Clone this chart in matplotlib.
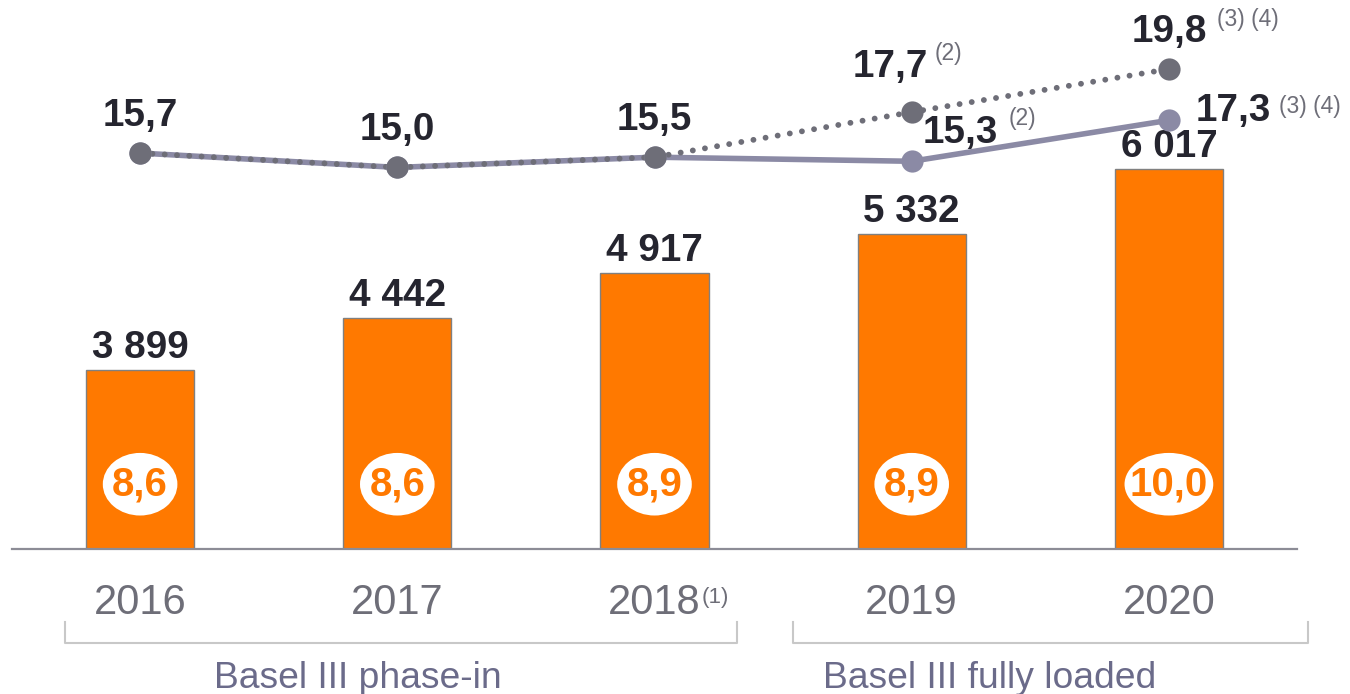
import matplotlib.pyplot as plt
from matplotlib.lines import Line2D
from matplotlib.patches import Ellipse
import numpy as np

plt.rcParams['font.family'] = ['Liberation Sans', 'DejaVu Sans']

# data
years = ['2016', '2017', '2018', '2019', '2020']
capital = [3899, 4442, 4917, 5332, 6017]
capital_labels = ['3 899', '4 442', '4 917', '5 332', '6 017']
cet1_labels = ['8,6', '8,6', '8,9', '8,9', '10,0']
ratio_solid = [15.7, 15.0, 15.5, 15.3, 17.3]
ratio_dotted = [15.7, 15.0, 15.5, 17.7, 19.8]
ratio_labels = ['15,7', '15,0', '15,5']
periods = ['Basel III phase-in', 'Basel III fully loaded']

ORANGE = '#ff7900'
DARK = '#25252f'
GREY = '#6e6e78'
LILAC = '#8b8aa5'
W, H = 1350, 694


def fx(px):
    return px / W


def fy(py):
    return 1 - py / H


fig = plt.figure(figsize=(13.5, 6.94), dpi=100)
ax = fig.add_axes([fx(11.5), fy(549), fx(1286), 549 / H])
x = np.arange(len(years))

ax.bar(x, capital, width=0.42, color=ORANGE, edgecolor='#808080', linewidth=1, zorder=2)
ax.set_xlim(-0.5, 4.5)
ax.set_ylim(2013, 7798)
for s in ['top', 'left', 'right']:
    ax.spines[s].set_visible(False)
ax.spines['bottom'].set_color('#8c8c96')
ax.spines['bottom'].set_linewidth(1.6)
ax.spines['bottom'].set_zorder(3)
ax.set_xticks([])
ax.set_yticks([])

for xi, v, lbl in zip(x, capital, capital_labels):
    ax.annotate(lbl, (xi, v), xytext=(0, 12), textcoords='offset pixels',
                ha='center', va='baseline', fontsize=27.8, fontweight='bold', color=DARK)

# white ellipses with the CET1 numbers
for xi, lbl in zip(x, cet1_labels):
    w = 0.29 if len(lbl) < 4 else 0.345
    ax.add_patch(Ellipse((xi, 0.118), w, 0.114, transform=ax.get_xaxis_transform(),
                         facecolor='white', edgecolor='none', zorder=3))
    ax.text(xi, 0.118, lbl, transform=ax.get_xaxis_transform(), ha='center', va='center',
            fontsize=29, fontweight='bold', color=ORANGE, zorder=4)

# year labels
for xi, yr in zip(x, years):
    ax.annotate(yr, (xi, 0), xycoords=ax.get_xaxis_transform(), xytext=(0, -65),
                textcoords='offset pixels', ha='center', va='baseline', fontsize=30, color=GREY)
ax.annotate('(1)', (2, 0), xycoords=ax.get_xaxis_transform(), xytext=(47, -54),
            textcoords='offset pixels', ha='left', va='baseline', fontsize=16, color=GREY)

# ratio lines
ax2 = ax.twinx()
ax2.set_ylim(-3.62, 23.17)
ax2.axis('off')
ax2.plot(x, ratio_solid, color=LILAC, lw=4, solid_capstyle='round', zorder=2)
ax2.plot(x, ratio_dotted, color=GREY, lw=4.2, linestyle=(0, (0.01, 2.1)),
         dash_capstyle='round', zorder=3)
ax2.plot(x, ratio_solid, 'o', color=LILAC, ms=16, mec='none', zorder=4)
ax2.plot(x, ratio_dotted, 'o', color=GREY, ms=16, mec='none', zorder=5)

for xi, v, lbl in zip(x[:3], ratio_dotted[:3], ratio_labels):
    ax2.annotate(lbl, (xi, v), xytext=(0, 27), textcoords='offset pixels',
                 ha='center', va='baseline', fontsize=27.8, fontweight='bold', color=DARK)

note = dict(textcoords='offset pixels', va='baseline', fontsize=16.5, color=GREY)
bold = dict(textcoords='offset pixels', va='baseline', fontsize=27.8, fontweight='bold', color=DARK)
ax2.annotate('17,7', (3, ratio_dotted[3]), xytext=(16, 35), ha='right', **bold)
ax2.annotate('(2)', (3, ratio_dotted[3]), xytext=(23, 52), ha='left', **note)
ax2.annotate('15,3', (3, ratio_solid[3]), xytext=(11, 18), ha='left', **bold)
ax2.annotate('(2)', (3, ratio_solid[3]), xytext=(97, 36), ha='left', **note)
ax2.annotate('19,8', (4, ratio_dotted[4]), xytext=(0, 27), ha='center', **bold)
ax2.annotate('(3) (4)', (4, ratio_dotted[4]), xytext=(48, 43), ha='left', **note)
ax2.annotate('17,3', (4, ratio_solid[4]), xytext=(27, -1), ha='left', **bold)
ax2.annotate('(3) (4)', (4, ratio_solid[4]), xytext=(110, 7), ha='left', **note)

# brackets under the years
for x0, x1 in [(65, 737), (793, 1308)]:
    fig.add_artist(Line2D([fx(x0), fx(x0), fx(x1), fx(x1)], [fy(622), fy(643), fy(643), fy(622)],
                          color='#c8c8c8', lw=1.5))
fig.text(fx(358), fy(688), periods[0], ha='center', va='baseline', fontsize=26.8, color='#6b6b8a')
fig.text(fx(990), fy(688), periods[1], ha='center', va='baseline', fontsize=26.8, color='#6b6b8a')

fig.savefig('out.png', dpi=100)
